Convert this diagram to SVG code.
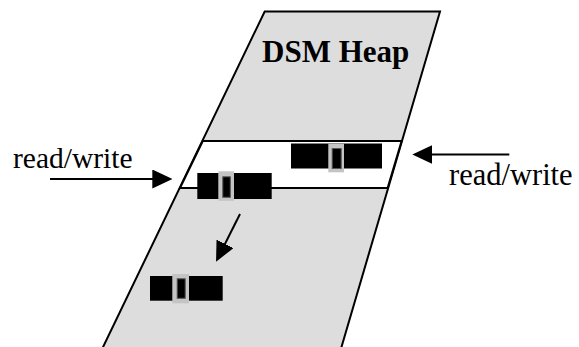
<svg xmlns="http://www.w3.org/2000/svg" width="579" height="347" viewBox="0 0 579 347">
<style>
.heap{fill:#dddddd;stroke:#000;stroke-width:2}
.band{fill:#fff;stroke:#000;stroke-width:2}
.blk{fill:#000}
.frame{fill:#c4c4c4}
.core{fill:#000;stroke:#555;stroke-width:1}
.lbl{font-family:"Liberation Serif","Times New Roman",serif;font-size:29.5px;fill:#000}
.title{font-family:"Liberation Serif","Times New Roman",serif;font-size:31px;font-weight:bold;fill:#000}
.conn{stroke:#000;stroke-width:2;fill:none;marker-end:url(#ah)}
</style>
<defs>
<marker id="ah" viewBox="0 0 20 19" refX="17" refY="9.5" markerWidth="20" markerHeight="19" orient="auto" markerUnits="userSpaceOnUse">
<path d="M0,0 L20,9.5 L0,19 Z" fill="#000"/>
</marker>
</defs>
<rect width="579" height="347" fill="#fff"/>
<g id="heap">
<polygon class="heap" points="264.7,11.5 440,11.5 340.6,350 101.6,350"/>
<text class="title" x="262" y="62">DSM Heap</text>
</g>
<g id="band">
<polygon class="band" points="202.8,141 401.6,141 387.6,188 180,188"/>
</g>
<g id="block1">
<rect class="blk" x="291" y="143.5" width="91" height="25"/>
<rect class="frame" x="328.3" y="143.7" width="15.7" height="28.6"/>
<rect class="core" x="332.2" y="148.5" width="9" height="20"/>
</g>
<g id="block2">
<rect class="blk" x="197.3" y="173" width="74.4" height="26"/>
<rect class="frame" x="218.3" y="171.3" width="15.7" height="29.5"/>
<rect class="core" x="222.8" y="176.8" width="7.5" height="20.5"/>
</g>
<g id="block3">
<rect class="blk" x="150" y="276" width="72.7" height="24.7"/>
<rect class="frame" x="172.3" y="274" width="16.7" height="29.3"/>
<rect class="core" x="177.2" y="278.8" width="8" height="19.5"/>
</g>
<g id="label-left">
<text class="lbl" x="13" y="168">read/write</text>
</g>
<g id="label-right">
<text class="lbl" x="449" y="185" style="font-size:30.5px">read/write</text>
</g>
<g id="connectors">
<line class="conn" x1="50" y1="179" x2="169.3" y2="179"/>
<line class="conn" x1="509.3" y1="154.5" x2="415.3" y2="154.5"/>
<line class="conn" x1="240" y1="214" x2="217.4" y2="259"/>
</g>
</svg>
